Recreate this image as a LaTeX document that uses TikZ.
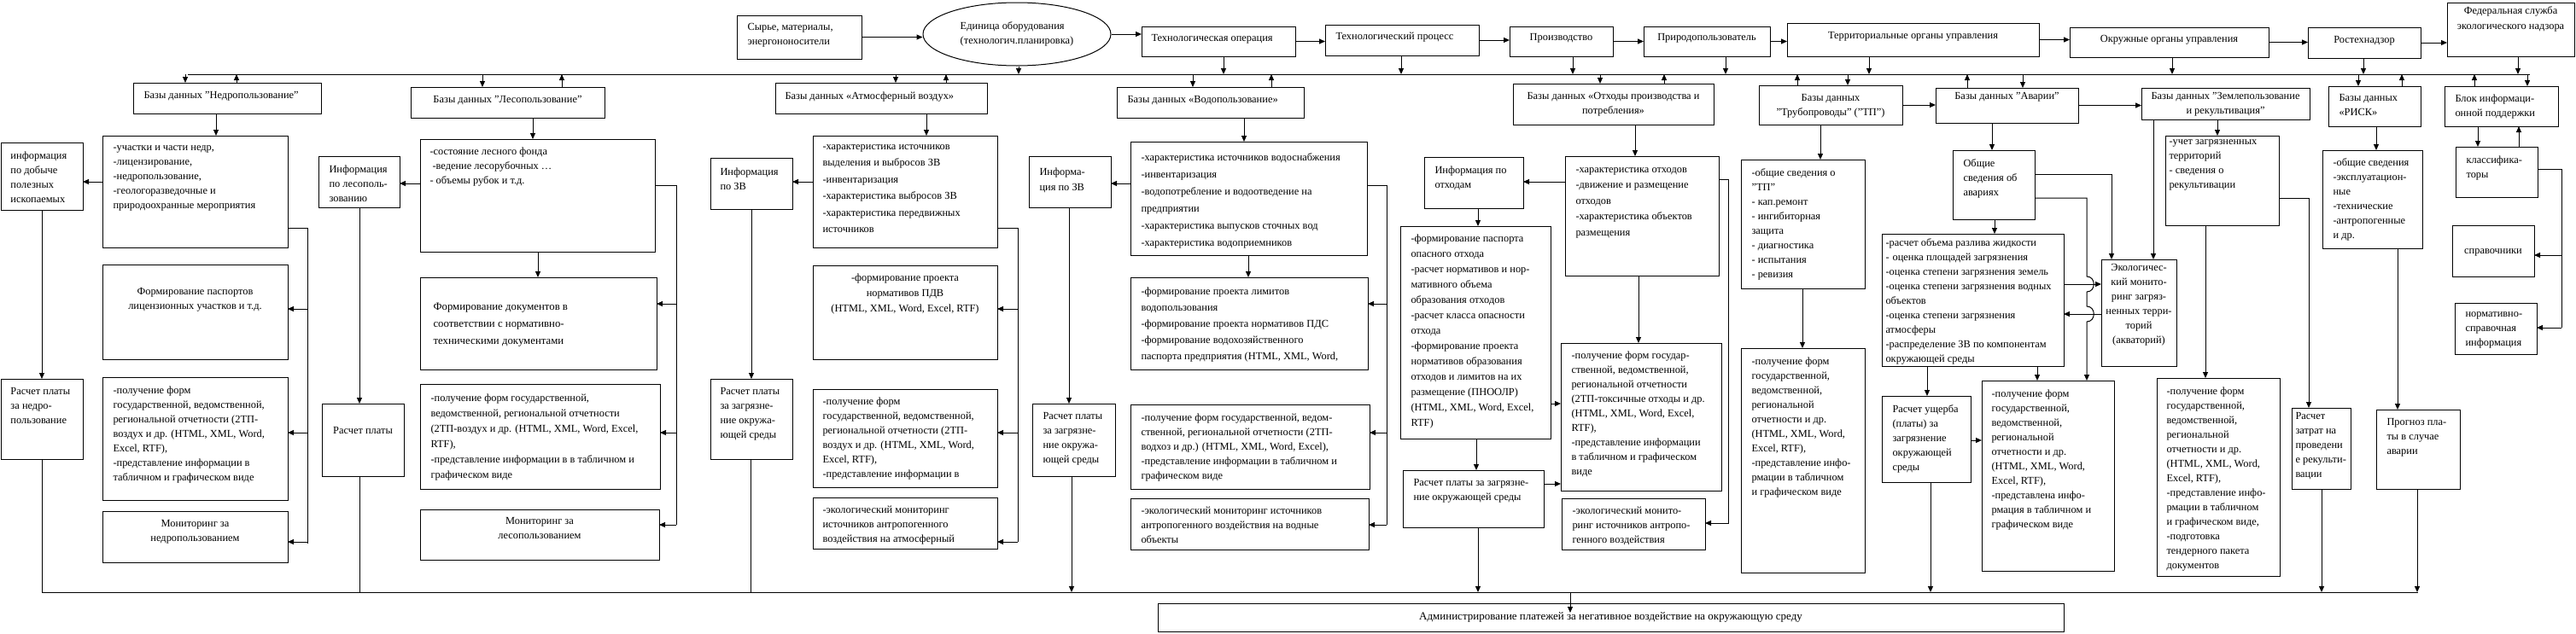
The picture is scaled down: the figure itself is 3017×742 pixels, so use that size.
\documentclass[tikz,border=0pt]{standalone}
\usepackage{fontspec}
\setmainfont{Liberation Serif}
\usetikzlibrary{arrows.meta,shapes.geometric,calc}

\newcommand{\bx}[9][]{%
  \pgfmathsetmacro\bw{#5-#3}%
  \pgfmathsetmacro\bh{#6-#4}%
  \node [frm,minimum width=\bw pt,minimum height=\bh pt] (#2) at (#3,#4) {};
  \node [txt,anchor=north west,#1] (#2-t) at ([xshift=#7pt,yshift=-#8pt]#2.north west) {#9};}
\newcommand{\bxc}[8][]{%
  \pgfmathsetmacro\bw{#5-#3}%
  \pgfmathsetmacro\bh{#6-#4}%
  \node [frm,minimum width=\bw pt,minimum height=\bh pt] (#2) at (#3,#4) {};
  \node [txt,anchor=north,align=center,#1] (#2-t) at ([yshift=-#7pt]#2.north) {#8};}

\begin{document}
\begin{tikzpicture}[x=1pt,y=-1pt,line width=1pt,
  frm/.style={draw,inner sep=0pt,outer sep=0pt,anchor=north west},
  txt/.style={inner sep=0pt,align=left,font=\fontsize{12.4}{17}\selectfont},
  arr/.style={-{Triangle[length=7pt,width=6pt]}}]
\useasboundingbox (0,0) rectangle (3017,742);

\bx{syr}{863}{18}{1009}{69}{12}{9}{Сырье, материалы,\\энергононосители}
\node [draw,ellipse,minimum width=220pt,minimum height=74pt,inner sep=0pt,align=left,font=\fontsize{12.4}{17}\selectfont] (edin) at (1191,40) {Единица оборудования\\(технологич.планировка)};
\bx{techop}{1337}{31}{1517}{66}{11}{9}{Технологическая операция}
\bx{techpr}{1552}{29}{1732}{65}{12}{9}{Технологический процесс}
\bxc{proizv}{1768}{31}{1889}{66}{8}{Производство}
\bxc{prirod}{1925}{31}{2073}{66}{8}{Природопользователь}
\bxc{terr}{2093}{27}{2388}{66}{10}{Территориальные органы управления}
\bxc{okr}{2424}{32}{2657}{67}{9}{Окружные органы управления}
\bxc{rtn}{2703}{32}{2835}{68}{10}{Ростехнадзор}
\bxc[font=\fontsize{12.4}{18}\selectfont]{fed}{2866}{3}{3015}{66}{4}{Федеральная служба\\экологического надзора}

\bx{bNedr}{156}{97}{376}{133}{12}{10}{Базы данных "Недропользование"}
\bxc{bLes}{481}{102}{708}{138}{10}{Базы данных "Лесопользование"}
\bx{bAtm}{908}{97}{1156}{133}{11}{10}{Базы данных «Атмосферный воздух»}
\bx{bVod}{1308}{102}{1527}{138}{12}{10}{Базы данных «Водопользование»}
\bxc{bOtx}{1772}{98}{2007}{146}{10}{Базы данных «Отходы производства и\\потребления»}
\bxc{bTrub}{2060}{100}{2228}{146}{10}{Базы данных\\"Трубопроводы" ("ТП")}
\bxc{bAvar}{2267}{103}{2434}{144}{5}{Базы данных "Аварии"}
\bxc{bZeml}{2508}{103}{2705}{140}{5}{Базы данных "Землепользование\\и рекультивация"}
\bx{bRisk}{2727}{101}{2835}{148}{12}{9}{Базы данных\\«РИСК»}
\bx{bBlok}{2863}{101}{2996}{148}{12}{9}{Блок информаци-\\онной поддержки}

\bx{infDob}{1}{167}{97}{246}{11}{10}{информация\\по добыче\\полезных\\ископаемых}
\bx{nedC}{120}{159}{337}{290}{12}{11}{-участки и части недр,\\-лицензирование,\\-недропользование,\\-геологоразведочные и\\природоохранные мероприятия}
\bxc{nedPasp}{120}{310}{337}{421}{27}{Формирование паспортов\\лицензионных участков и т.д.}
\bx{nedRas}{1}{444}{97}{538}{11}{10}{Расчет платы\\за недро-\\пользование}
\bx{nedForm}{120}{442}{337}{586}{12}{10}{-получение форм\\государственной, ведомственной,\\региональной отчетности (2ТП-\\воздух и др.  (HTML, XML, Word,\\Excel, RTF),\\-представление информации в\\табличном и графическом виде}
\bxc{nedMon}{120}{599}{337}{659}{10}{Мониторинг за\\недропользованием}

\bx{infLes}{373}{183}{468}{243}{12}{10}{Информация\\по лесополь-\\зованию}
\bx{lesC}{492}{163}{767}{295}{11}{9}{-состояние лесного фонда\\\hspace{3pt}-ведение лесорубочных …\\- объемы рубок и т.д.}
\bx[font=\fontsize{12.8}{20}\selectfont]{lesDoc}{492}{325}{769}{433}{15}{30}{Формирование документов в\\соответствии с нормативно-\\техническими документами}
\bxc{lesRas}{377}{473}{473}{558}{27}{Расчет платы}
\bx[font=\fontsize{12.4}{18}\selectfont]{lesForm}{492}{450}{773}{573}{12}{11}{-получение форм государственной,\\ведомственной, региональной отчетности\\(2ТП-воздух и др.  (HTML, XML, Word, Excel,\\RTF),\\-представление информации в  в табличном и\\графическом виде}
\bxc{lesMon}{492}{597}{772}{656}{9}{Мониторинг за\\лесопользованием}

\bx{infZV1}{832}{185}{928}{245}{11}{11}{Информация\\по ЗВ}
\bx[font=\fontsize{12.4}{19.5}\selectfont]{atmC}{952}{159}{1168}{290}{11}{10}{-характеристика источников\\выделения и выбросов ЗВ\\-инвентаризация\\-характеристика выбросов ЗВ\\-характеристика передвижных\\источников}
\bxc[font=\fontsize{12.4}{18}\selectfont]{atmPDV}{952}{311}{1168}{421}{9}{-формирование проекта\\нормативов ПДВ\\(HTML, XML, Word, Excel, RTF)}
\bx{atmRas}{832}{444}{928}{538}{11}{10}{Расчет платы\\за загрязне-\\ние окружа-\\ющей среды}
\bx{atmForm}{952}{456}{1168}{571}{11}{9}{-получение форм\\государственной, ведомственной,\\региональной отчетности (2ТП-\\воздух и др.  (HTML, XML, Word,\\Excel, RTF),\\-представление информации в}
\bx{atmEco}{952}{583}{1168}{643}{11}{10}{-экологический мониторинг\\источников антропогенного\\воздействия на атмосферный}

\bx[font=\fontsize{12.4}{18}\selectfont]{infZV2}{1205}{183}{1301}{243}{12}{13}{Информа-\\ция по ЗВ}
\bx[font=\fontsize{12.4}{20}\selectfont]{vodC}{1324}{166}{1601}{299}{12}{13}{-характеристика источников водоснабжения\\-инвентаризация\\-водопотребление и водоотведение на\\предприятии\\-характеристика выпусков сточных вод\\-характеристика водоприемников}
\bx[font=\fontsize{12.4}{19}\selectfont]{vodPDS}{1324}{325}{1602}{433}{12}{11}{-формирование проекта лимитов\\водопользования\\-формирование проекта нормативов ПДС\\-формирование водохозяйственного\\паспорта предприятия (HTML, XML, Word,}
\bx{vodRas}{1209}{473}{1306}{558}{12}{10}{Расчет платы\\за загрязне-\\ние окружа-\\ющей среды}
\bx{vodForm}{1324}{474}{1604}{573}{12}{10}{-получение форм государственной, ведом-\\ственной, региональной отчетности (2ТП-\\водхоз и др.) (HTML, XML, Word, Excel),\\-представление информации в табличном и\\графическом виде}
\bx{vodEco}{1324}{584}{1603}{644}{12}{10}{-экологический мониторинг источников\\антропогенного воздействия на водные\\объекты}

\bx{infOtx}{1668}{184}{1784}{244}{12}{10}{Информация по\\отходам}
\bx[font=\fontsize{12.4}{18.5}\selectfont]{otxC}{1833}{183}{2013}{323}{12}{13}{-характеристика отходов\\-движение и размещение\\отходов\\-характеристика объектов\\размещения}
\bx[font=\fontsize{12.4}{18}\selectfont]{otxPasp}{1640}{265}{1816}{514}{12}{9}{-формирование паспорта\\опасного отхода\\-расчет нормативов и нор-\\мативного объема\\образования отходов\\-расчет класса опасности\\отхода\\-формирование проекта\\нормативов образования\\отходов и лимитов на их\\размещение (ПНООЛР)\\(HTML, XML, Word, Excel,\\RTF)}
\bx{otxRas}{1643}{551}{1808}{618}{12}{10}{Расчет платы за загрязне-\\ние окружающей среды}
\bx{otxForm}{1828}{402}{2016}{575}{12}{9}{-получение форм государ-\\ственной, ведомственной,\\региональной отчетности\\(2ТП-токсичные отходы и др.\\(HTML, XML, Word, Excel,\\RTF),\\-представление информации\\в табличном и графическом\\виде}
\bx{otxEco}{1829}{584}{1997}{644}{12}{10}{-экологический монито-\\ринг источников антропо-\\генного воздействия}

\bx{trubC}{2039}{187}{2184}{338}{12}{10}{-общие сведения о\\"ТП"\\- кап.ремонт\\- ингибиторная\\защита\\- диагностика\\- испытания\\- ревизия}
\bx{trubForm}{2039}{408}{2184}{671}{12}{10}{-получение форм\\государственной,\\ведомственной,\\региональной\\отчетности  и др.\\(HTML, XML, Word,\\Excel, RTF),\\-представление инфо-\\рмации в табличном\\и графическом виде}

\bx{obsh}{2287}{176}{2383}{257}{12}{10}{Общие\\сведения об\\авариях}
\bx{avC}{2204}{274}{2417}{429}{4}{5}{-расчет объема разлива жидкости\\-\hspace{4pt}оценка площадей загрязнения\\-оценка степени загрязнения земель\\-оценка степени загрязнения водных\\объектов\\-оценка степени загрязнения\\атмосферы\\-распределение ЗВ по компонентам\\окружающей среды}
\bx{avRas}{2204}{464}{2308}{565}{12}{10}{Расчет ущерба\\(платы) за\\загрязнение\\окружающей\\среды}
\bx{avForm}{2321}{446}{2476}{669}{11}{10}{-получение форм\\государственной,\\ведомственной,\\региональной\\отчетности  и др.\\(HTML, XML, Word,\\Excel, RTF),\\-представлена инфо-\\рмация в табличном и\\графическом виде}
\bxc{ecoTer}{2461}{304}{2549}{429}{5}{Экологичес-\\кий монито-\\ринг загряз-\\ненных терри-\\торий\\(акваторий)}

\bx{zemC}{2536}{159}{2669}{264}{4}{4}{-учет загрязненных\\территорий\\- сведения о\\рекультивации}
\bx{zemForm}{2526}{443}{2670}{675}{11}{10}{-получение форм\\государственной,\\ведомственной,\\региональной\\отчетности  и др.\\(HTML, XML, Word,\\Excel, RTF),\\-представление инфо-\\рмации в табличном\\и графическом виде,\\-подготовка\\тендерного пакета\\документов}
\bx{zemRas}{2684}{478}{2753}{573}{4}{5}{Расчет\\затрат на\\проведени\\е рекульти-\\вации}

\bx{riskC}{2720}{176}{2837}{291}{12}{9}{-общие сведения\\-эксплуатацион-\\ные\\-технические\\-антропогенные\\и др.}
\bx{progn}{2783}{480}{2881}{573}{12}{10}{Прогноз пла-\\ты в случае\\аварии}

\bx{klass}{2876}{172}{2972}{231}{12}{10}{классифика-\\торы}
\bxc{sprav}{2872}{264}{2968}{324}{27}{справочники}
\bx{norm}{2875}{355}{2971}{415}{12}{10}{нормативно-\\справочная\\информация}

\bxc[font=\fontsize{13}{17}\selectfont]{admin}{1356}{707}{2417}{740}{10}{Администрирование платежей за негативное воздействие на окружающую среду}

\coordinate (tbus) at (220,87);
\coordinate (tbusR) at (2963,87);
\coordinate (bbus) at (49,694);
\coordinate (bbusR) at (2832,694);
\draw (tbus) -- (tbusR);
\draw (bbus) -- (bbusR);

\draw [arr] (syr.east) -- (syr.east -| edin.west);
\draw [arr] (edin.east) -- (edin.east -| techop.west);
\foreach \a/\b in {techop/techpr,techpr/proizv,proizv/prirod,prirod/terr,terr/okr,okr/rtn,rtn/fed}
  \draw [arr] (\a.east) -- (\a.east -| \b.west);
\foreach \n/\x in {edin/1193,techop/1433,techpr/1641,proizv/1842,prirod/2021,terr/2189,okr/2544,rtn/2768,fed/2949}
  \draw [arr] (\x,0 |- \n.south) -- (\x,0 |- tbus);
\foreach \n/\d/\u in {bNedr/217/277,bLes/565/658,bAtm/1049/1108,bVod/1397/1489,bOtx/1874/1949,bTrub/2164/2105,bAvar/2369/2304,bRisk/2762/2813,bBlok/2960/2898}{
  \draw [arr] (\d,0 |- tbus) -- (\d,0 |- \n.north);
  \draw [arr] (\u,0 |- \n.north) -- (\u,0 |- tbus);
}
\draw [arr] (bTrub.east) -- (bTrub.east -| bAvar.west);
\draw [arr] (bAvar.east) -- (bAvar.east -| bZeml.west);

\foreach \x/\a/\b in {253/bNedr/nedC,624/bLes/lesC,630/lesC/lesDoc,1085/bAtm/atmC,1457/bVod/vodC,1462/vodC/vodPDS,1915/bOtx/otxC,1731/infOtx/otxPasp,1729/otxPasp/otxRas,1919/otxC/otxForm,2132/bTrub/trubC,2111/trubC/trubForm,2333/bAvar/obsh,2336/obsh/avC,2386/avC/avForm,2257/avC/avRas,2597/bZeml/zemC,2522/bZeml/ecoTer,2583/zemC/zemForm,2783/bRisk/riskC,2902/bBlok/klass,49/infDob/nedRas,421/infLes/lesRas,880/infZV1/atmRas,1252/infZV2/vodRas,2808/riskC/progn}
  \draw [arr] (\x,0 |- \a.south) -- (\x,0 |- \b.north);
\draw [arr] (2950,0 |- klass.north) -- (2950,0 |- bBlok.south);

\foreach \n/\x in {nedRas/49,lesRas/421,atmRas/879}
  \draw (\x,0 |- \n.south) -- (\x,0 |- bbus);
\foreach \n/\x in {vodRas/1255,otxRas/1731,avRas/2261,zemRas/2719,progn/2831}
  \draw [arr] (\x,0 |- \n.south) -- (\x,0 |- bbus);
\draw [arr] (1839,0 |- bbus) -- ($(1839,0 |- admin.north)+(0,11)$);

\foreach \a/\b/\y in {nedC/infDob/213,lesC/infLes/215,atmC/infZV1/213,vodC/infZV2/215,otxC/infOtx/213}
  \draw [arr] (\a.west |- 0,\y) -- (\b.east |- 0,\y);

\foreach \s/\ys/\xr/\ye in {nedC/267/360/637,lesC/217/792/615,atmC/267/1192/635,vodC/217/1624/615}
  \draw (\s.east |- 0,\ys) -| (\xr,\ye);
\foreach \xr/\n/\y in {360/nedPasp/362,360/nedForm/507,360/nedMon/635,792/lesDoc/356,792/lesForm/507,792/lesMon/615,1192/atmPDV/362,1192/atmForm/507,1192/atmEco/635,1624/vodPDS/356,1624/vodForm/507,1624/vodEco/615}
  \draw [arr] (\xr,\y) -- (\n.east |- 0,\y);

\draw [arr] (otxPasp.east |- 0,473) -- (otxForm.west |- 0,473);
\draw [arr] (otxRas.east |- 0,567) -- (otxForm.west |- 0,567);
\draw [arr] (otxC.east |- 0,210) -| (2024,613) -- (otxEco.east |- 0,613);

\draw [arr] (obsh.east |- 0,204) -| (2473,0 |- ecoTer.north);
\draw [arr] (obsh.east |- 0,232) -- (2444,232) -- (2444,324) .. controls (2455,324) and (2455,342) .. (2444,342) -- (2444,359) .. controls (2455,359) and (2455,377) .. (2444,377) -- (2444,0 |- avForm.north);
\draw [arr] (avC.east |- 0,333) -- (ecoTer.west |- 0,333);
\draw [arr] (ecoTer.west |- 0,368) -- (avC.east |- 0,368);
\draw [arr] (avRas.east |- 0,516) -- (avForm.west |- 0,516);

\draw [arr] (zemC.east |- 0,232) -| (2704,0 |- zemRas.north);

\draw (klass.east |- 0,198) -| (3000,384);
\draw [arr] (3000,299) -- (sprav.east |- 0,299);
\draw [arr] (3000,384) -- (norm.east |- 0,384);
\end{tikzpicture}
\end{document}
